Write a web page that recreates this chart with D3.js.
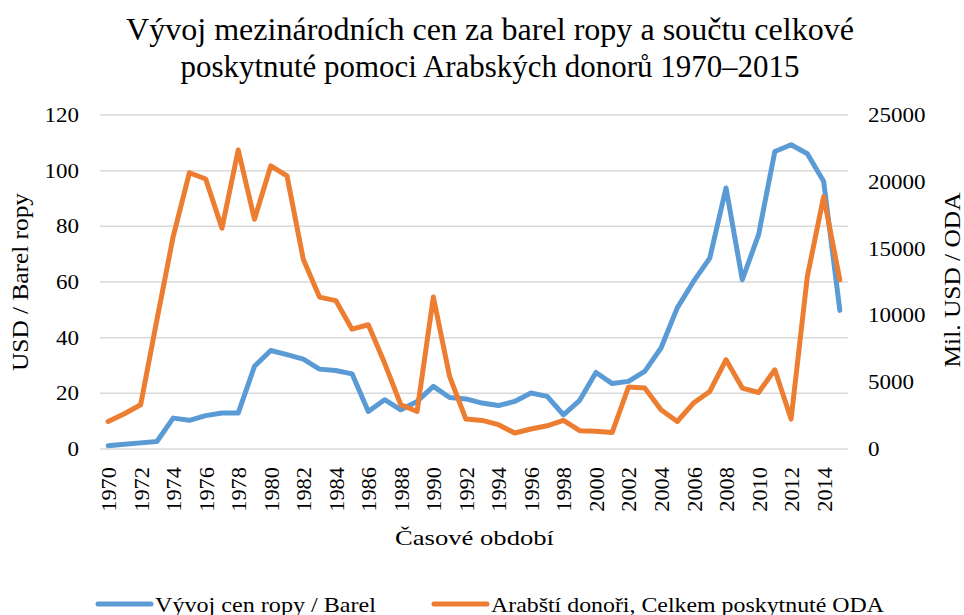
<!DOCTYPE html>
<html>
<head>
<meta charset="utf-8">
<script src="https://cdn.jsdelivr.net/npm/d3@7"></script>
</head>
<body style="margin:0">
<svg id="ropa" width="964" height="615"></svg>
<script>
// years and both series
const years = d3.range(1970, 2016);
const oilPrice = [1.2, 1.7, 2.2, 2.7, 11.1, 10.3, 12.0, 12.9, 12.9, 29.7,
    35.4, 33.9, 32.3, 28.7, 28.2, 27.0, 13.5, 17.7, 14.1, 17.1,
    22.5, 18.5, 18.0, 16.5, 15.6, 17.1, 20.1, 18.9, 12.3, 17.5,
    27.5, 23.5, 24.3, 27.9, 36.3, 50.7, 60.2, 68.6, 93.8, 60.8,
    77.0, 106.9, 109.3, 106.1, 96.2, 49.8];
const arabOda = [2060, 2640, 3310, 9670, 15900, 20680, 20210, 16530, 22380, 17200,
    21190, 20440, 14210, 11370, 11110, 8970, 9300, 6430, 3310, 2810,
    11370, 5430, 2240, 2140, 1820, 1200, 1500, 1740, 2140, 1370,
    1320, 1240, 4640, 4560, 2940, 2060, 3440, 4310, 6680, 4560,
    4230, 5930, 2240, 12910, 18890, 12660];
const leftTicks = [0, 20, 40, 60, 80, 100, 120];
const rightTicks = [0, 5000, 10000, 15000, 20000, 25000];
const yearLabels = years.filter(y => (y - 1970) % 2 === 0);

const titleLines = ["Vývoj mezinárodních cen za barel ropy a součtu celkové",
    "poskytnuté pomoci Arabských donorů 1970–2015"];
const seriesNames = ["Vývoj cen ropy / Barel", "Arabští donoři, Celkem poskytnuté ODA"];
const colors = ["#5b9bd5", "#ed7d31"];

const svg = d3.select("#ropa");
const plot = { left: 100, right: 848, top: 115, bottom: 449 };

const x = d3.scaleBand().domain(years).range([plot.left, plot.right]);
const yLeft = d3.scaleLinear().domain([0, 120]).range([plot.bottom, plot.top]);
const yRight = d3.scaleLinear().domain([0, 25000]).range([plot.bottom, plot.top]);
const cx = d => x(d) + x.bandwidth() / 2;

function styleText(sel, size) {
    sel.attr("font-family", "Liberation Serif")
        .style("font-family", "'Liberation Serif', 'Times New Roman', serif")
        .attr("font-size", size)
        .attr("fill", "#000");
}

// the text in the picture is a bit wider than plain Times, stretch it
function stretch(sel, factor) {
    sel.each(function () {
        const w = this.getComputedTextLength();
        this.setAttribute("textLength", w * factor);
        this.setAttribute("lengthAdjust", "spacingAndGlyphs");
    });
}

// title
const titleWidths = [728, 619];
svg.append("g").selectAll("text")
    .data(titleLines)
    .enter().append("text")
    .attr("x", 490)
    .attr("y", (d, i) => 40 + i * 37)
    .attr("text-anchor", "middle")
    .call(styleText, 31)
    .attr("textLength", (d, i) => titleWidths[i])
    .attr("lengthAdjust", "spacingAndGlyphs")
    .text(d => d);

// gridlines
svg.append("g")
    .selectAll("line")
    .data(leftTicks)
    .enter().append("line")
    .attr("x1", plot.left)
    .attr("x2", plot.right)
    .attr("y1", d => yLeft(d))
    .attr("y2", d => yLeft(d))
    .attr("stroke", "#d9d9d9")
    .attr("stroke-width", 1.5);

// left axis
const leftAxis = svg.append("g")
    .attr("transform", "translate(" + (plot.left - 21) + ",0)")
    .call(d3.axisLeft(yLeft).tickValues(leftTicks).tickSize(0).tickPadding(0));
leftAxis.attr("font-family", null);
leftAxis.select(".domain").remove();
leftAxis.selectAll("text").call(styleText, 20).call(stretch, 1.15);

// right axis
const rightAxis = svg.append("g")
    .attr("transform", "translate(" + (plot.right + 20) + ",0)")
    .call(d3.axisRight(yRight).tickValues(rightTicks).tickFormat(d3.format("d")).tickSize(0).tickPadding(0));
rightAxis.attr("font-family", null);
rightAxis.select(".domain").remove();
rightAxis.selectAll("text").call(styleText, 20).call(stretch, 1.15);

// x axis labels, rotated
svg.append("g").selectAll("text")
    .data(yearLabels)
    .enter().append("text")
    .attr("transform", d => "translate(" + (cx(d) + 8) + ",467) rotate(-90)")
    .attr("text-anchor", "end")
    .call(styleText, 20)
    .text(d => d)
    .call(stretch, 1.12);

// axis titles
svg.append("text")
    .attr("transform", "translate(28,282) rotate(-90)")
    .attr("text-anchor", "middle")
    .call(styleText, 23)
    .text("USD / Barel ropy")
    .attr("textLength", 178)
    .attr("lengthAdjust", "spacingAndGlyphs");

svg.append("text")
    .attr("transform", "translate(960,280) rotate(-90)")
    .attr("text-anchor", "middle")
    .call(styleText, 23)
    .text("Mil. USD / ODA")
    .attr("textLength", 175)
    .attr("lengthAdjust", "spacingAndGlyphs");

svg.append("text")
    .attr("x", 474.5)
    .attr("y", 545)
    .attr("text-anchor", "middle")
    .call(styleText, 22)
    .text("Časové období")
    .attr("textLength", 159)
    .attr("lengthAdjust", "spacingAndGlyphs");

// lines
const lineLeft = d3.line().x((d, i) => cx(years[i])).y(d => yLeft(d));
const lineRight = d3.line().x((d, i) => cx(years[i])).y(d => yRight(d));

svg.append("path")
    .datum(oilPrice)
    .attr("d", lineLeft)
    .attr("fill", "none")
    .attr("stroke", colors[0])
    .attr("stroke-width", 5)
    .attr("stroke-linejoin", "round")
    .attr("stroke-linecap", "round");

svg.append("path")
    .datum(arabOda)
    .attr("d", lineRight)
    .attr("fill", "none")
    .attr("stroke", colors[1])
    .attr("stroke-width", 5)
    .attr("stroke-linejoin", "round")
    .attr("stroke-linecap", "round");

// legend
const legendX = [98, 434];
const legendTextW = [221, 393];
const legend = svg.append("g").selectAll("g")
    .data(seriesNames)
    .enter().append("g")
    .attr("transform", (d, i) => "translate(" + legendX[i] + ",604)");

legend.append("line")
    .attr("x1", 0)
    .attr("x2", 53)
    .attr("stroke", (d, i) => colors[i])
    .attr("stroke-width", 5)
    .attr("stroke-linecap", "round");

legend.append("text")
    .attr("x", 57)
    .attr("y", 8)
    .call(styleText, 22)
    .attr("textLength", (d, i) => legendTextW[i])
    .attr("lengthAdjust", "spacingAndGlyphs")
    .text(d => d);
</script>
</body>
</html>
